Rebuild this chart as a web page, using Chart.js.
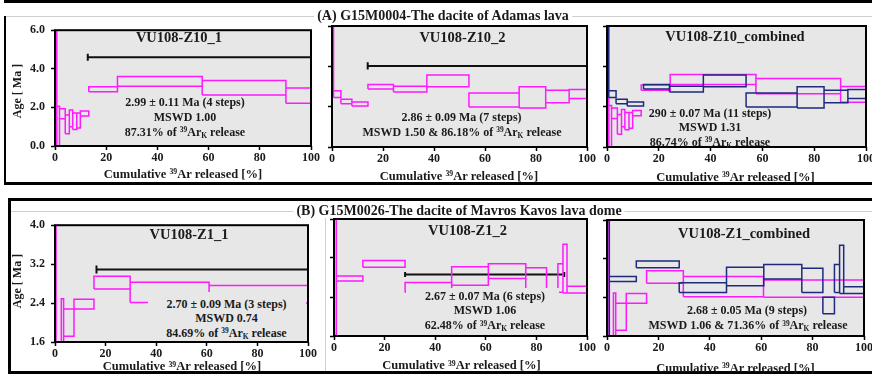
<!DOCTYPE html>
<html><head><meta charset="utf-8">
<script src="https://cdn.jsdelivr.net/npm/chart.js@4.4.0/dist/chart.umd.min.js"></script>
<style>
html,body{margin:0;padding:0;background:#fff;width:872px;height:379px;overflow:hidden;}
body{position:relative;font-family:"Liberation Serif","Times New Roman",serif;font-weight:bold;color:#1a1a1a;}
.ln{position:absolute;background:#000;}
.gl{position:absolute;background:#cfcfcf;}
canvas{position:absolute;}
.t{position:absolute;transform:translate(-50%,-50%);white-space:nowrap;line-height:1;}
.name{font-size:14.5px;}
.ann{font-size:12px;}
.xt{font-size:12.5px;}
.sec{font-size:14px;background:#fff;padding:0 3px;}
.yt{position:absolute;transform:translate(-50%,-50%) rotate(-90deg);white-space:nowrap;font-size:12px;line-height:1;}
.sup{font-size:0.62em;position:relative;top:-0.45em;}
.sub{font-size:0.62em;position:relative;top:0.3em;}
.box{position:absolute;background:#e7e7e7;}
</style>
</head><body>

<!-- section frames -->
<div class="ln" style="left:4px;top:0px;width:868px;height:3px"></div>
<div class="gl" style="left:4px;top:16px;width:868px;height:1px"></div>
<div class="ln" style="left:4px;top:16px;width:2px;height:168px"></div>
<div class="ln" style="left:4px;top:182px;width:868px;height:3px"></div>

<div class="ln" style="left:8px;top:198px;width:864px;height:3px"></div>
<div class="ln" style="left:8px;top:198px;width:3px;height:176px"></div>
<div class="ln" style="left:8px;top:371px;width:864px;height:3px"></div>
<div class="gl" style="left:11px;top:211px;width:861px;height:1px"></div>
<div class="gl" style="left:325px;top:212px;width:1px;height:159px"></div>

<canvas id="cA1" width="10" height="10"></canvas>
<canvas id="cA2" width="10" height="10"></canvas>
<canvas id="cA3" width="10" height="10"></canvas>
<canvas id="cB1" width="10" height="10"></canvas>
<canvas id="cB2" width="10" height="10"></canvas>
<canvas id="cB3" width="10" height="10"></canvas>

<div class="t sec" style="left:443px;top:15.5px">(A) G15M0004-The dacite of Adamas lava</div>
<div class="t sec" style="left:459px;top:210.5px">(B) G15M0026-The dacite of Mavros Kavos lava dome</div>

<div class="yt" style="left:17px;top:91px">Age [ Ma ]</div>
<div class="yt" style="left:17px;top:281px">Age [ Ma ]</div>

<div class="t name" style="left:179px;top:36.5px">VU108-Z10_1</div>
<div class="t name" style="left:462.5px;top:36.5px">VU108-Z10_2</div>
<div class="t name" style="left:735px;top:36px">VU108-Z10_combined</div>
<div class="t name" style="left:189px;top:234px">VU108-Z1_1</div>
<div class="t name" style="left:467.5px;top:229.5px">VU108-Z1_2</div>
<div class="t name" style="left:744px;top:232.5px">VU108-Z1_combined</div>

<div class="t ann" style="left:185px;top:102px">2.99 ± 0.11 Ma (4 steps)</div>
<div class="t ann" style="left:185px;top:116.5px">MSWD 1.00</div>
<div class="t ann" style="left:185px;top:131.5px">87.31% of <span class="sup">39</span>Ar<span class="sub">K</span> release</div>

<div class="t ann" style="left:461.5px;top:117px">2.86 ± 0.09 Ma (7 steps)</div>
<div class="t ann" style="left:462px;top:131.5px">MSWD 1.50 &amp; 86.18% of <span class="sup">39</span>Ar<span class="sub">K</span> release</div>

<div class="t ann" style="left:710px;top:112.5px">290 ± 0.07 Ma (11 steps)</div>
<div class="t ann" style="left:710px;top:126.5px">MSWD 1.31</div>
<div class="t ann" style="left:710px;top:141.5px">86.74% of <span class="sup">39</span>Ar<span class="sub">K</span> release</div>

<div class="box" style="left:148px;top:292px;width:158px;height:49px"></div>
<div class="t ann" style="left:226.5px;top:303.5px">2.70 ± 0.09 Ma (3 steps)</div>
<div class="t ann" style="left:226.5px;top:317.5px">MSWD 0.74</div>
<div class="t ann" style="left:226.5px;top:332.5px">84.69% of <span class="sup">39</span>Ar<span class="sub">K</span> release</div>

<div class="box" style="left:406px;top:288px;width:153px;height:46px"></div>
<div class="t ann" style="left:485px;top:296px">2.67 ± 0.07 Ma (6 steps)</div>
<div class="t ann" style="left:485px;top:309.5px">MSWD 1.06</div>
<div class="t ann" style="left:485px;top:325px">62.48% of <span class="sup">39</span>Ar<span class="sub">K</span> release</div>

<div class="t ann" style="left:747px;top:309.5px">2.68 ± 0.05 Ma (9 steps)</div>
<div class="t ann" style="left:748px;top:325px">MSWD 1.06 &amp; 71.36% of <span class="sup">39</span>Ar<span class="sub">K</span> release</div>

<div class="t xt" style="left:183px;top:173.5px">Cumulative <span class="sup">39</span>Ar released [%]</div>
<div class="t xt" style="left:459px;top:175.5px">Cumulative <span class="sup">39</span>Ar released [%]</div>
<div class="t xt" style="left:735.5px;top:176.5px">Cumulative <span class="sup">39</span>Ar released [%]</div>
<div class="t xt" style="left:182px;top:366px">Cumulative <span class="sup">39</span>Ar released [%]</div>
<div class="t xt" style="left:461.5px;top:365px">Cumulative <span class="sup">39</span>Ar released [%]</div>
<div class="t xt" style="left:735.5px;top:367.5px">Cumulative <span class="sup">39</span>Ar released [%]</div>

<script>
// ---- tick labels ----
const xTicks = [0, 20, 40, 60, 80, 100];
const yTicksA = [0, 2, 4, 6];
const yTicksB = [1.6, 2.4, 3.2, 4.0];

// ---- VU108-Z10_1 : cumulative 39Ar step boundaries [%], step age [Ma], 2s error [Ma] ----
const z10_1_steps = [0, 0.7, 1.75, 4.0, 5.6, 6.9, 8.5, 9.9, 13.2, 24.4, 57.5, 90.2, 100];
const z10_1_age   = [3.0, 0.53, 1.67, 1.12, 1.43, 1.28, 1.32, 1.68, 2.94, 3.35, 3.02, 2.61];
const z10_1_err   = [9.0, 1.53, 0.26, 0.49, 0.43, 0.43, 0.39, 0.13, 0.13, 0.25, 0.38, 0.39];
const z10_1_plateau = [12.8, 100, 4.6];   // from %, to %, bar level

// ---- VU108-Z10_2 ----
const z10_2_steps = [0, 0.6, 3.5, 7.8, 14.1, 24.1, 37.2, 53.7, 73.4, 83.8, 93.0, 100];
const z10_2_age   = [7.3, 2.62, 2.26, 2.13, 2.99, 2.87, 3.28, 2.33, 2.46, 2.51, 2.63];
const z10_2_err   = [4.7, 0.17, 0.11, 0.10, 0.11, 0.14, 0.29, 0.35, 0.53, 0.31, 0.22];
const z10_2_plateau = [14.0, 100, 4.02];

// ---- VU108-Z1_1 ----
const z1_1_steps = [0, 0.4, 2.5, 3.4, 7.5, 15.4, 29.7, 60.9, 100];
const z1_1_age   = [4.0, 1.2, 1.75, 2.0, 2.38, 2.82, 2.62, 2.58];
const z1_1_err   = [6.0, 0.2, 0.74, 0.28, 0.10, 0.13, 0.21, 0.18];
const z1_1_plateau = [16.4, 100, 3.09];

// ---- VU108-Z1_2 ----
const z1_2_steps = [0, 0.9, 11.4, 28.1, 46.5, 61.0, 75.8, 84.0, 88.5, 90.5, 92.1, 100];
const z1_2_age   = [4.0, 2.78, 3.08, 2.60, 2.83, 2.93, 2.75, 2.23, 2.79, 2.98, 2.55];
const z1_2_err   = [6.0, 0.05, 0.07, 0.10, 0.19, 0.15, 0.25, 0.17, 0.29, 0.50, 0.07];
const z1_2_plateau = [28.1, 91.0, 2.86];

const MAGENTA = '#ff19ff';
const NAVY = '#1e2a7e';
const FONT = {family: "'Liberation Serif','Times New Roman',serif", weight: 'bold', size: 12};

function boxes(steps, age, err) {
  const pts = [];
  for (let i = 0; i < age.length; i++) {
    const x0 = steps[i], x1 = steps[i + 1], lo = age[i] - err[i], hi = age[i] + err[i];
    pts.push({x: x0, y: lo}, {x: x0, y: hi}, {x: x1, y: hi}, {x: x1, y: lo}, {x: x0, y: lo}, {x: x1, y: null});
  }
  return pts;
}
function plateau(p, cap) {
  const [a, b, l] = p;
  return [{x: a, y: l - cap}, {x: a, y: l + cap}, {x: a, y: l}, {x: b, y: l}, {x: b, y: l + cap}, {x: b, y: l - cap}];
}
function spec(data, color) {
  return {data, showLine: true, borderColor: color, borderWidth: 1.5, pointRadius: 0, spanGaps: false, fill: false, tension: 0, borderJoinStyle: 'miter'};
}
function bar(data) {
  return {data, showLine: true, borderColor: '#111', borderWidth: 2, pointRadius: 0, spanGaps: false, fill: false, tension: 0};
}

const frame = {
  id: 'frame',
  beforeDraw(chart) {
    const a = chart.chartArea, c = chart.ctx;
    c.save(); c.fillStyle = '#e7e7e7'; c.fillRect(a.left, a.top, a.right - a.left, a.bottom - a.top); c.restore();
  },
  afterDatasetsDraw(chart) {
    const a = chart.chartArea, c = chart.ctx;
    c.save(); c.strokeStyle = '#000'; c.lineWidth = 2;
    c.strokeRect(a.left, a.top, a.right - a.left, a.bottom - a.top); c.restore();
  }
};

function panel(id, g, yTicks, showY, datasets) {
  const ly = showY ? 50 : 8, padTop = 8, padRight = 14, hx = 22;
  const cv = document.getElementById(id);
  cv.width = g.W + ly + padRight;
  cv.height = g.H + padTop + hx;
  cv.style.left = (g.L - ly) + 'px';
  cv.style.top = (g.T - padTop) + 'px';
  new Chart(cv, {
    type: 'scatter',
    data: {datasets},
    plugins: [frame],
    options: {
      responsive: false, animation: false, events: [],
      layout: {padding: {top: padTop, right: padRight, left: 0, bottom: 0}},
      plugins: {legend: {display: false}, tooltip: {enabled: false}, title: {display: false}},
      scales: {
        x: {
          type: 'linear', min: xTicks[0], max: xTicks[xTicks.length - 1],
          afterBuildTicks: s => { s.ticks = xTicks.map(v => ({value: v})); },
          afterFit: s => { s.height = hx; },
          grid: {display: true, drawOnChartArea: false, drawTicks: true, tickLength: 4, tickColor: '#000', tickWidth: 1.5},
          border: {display: false},
          ticks: {color: '#1a1a1a', font: FONT, padding: 1, maxRotation: 0, autoSkip: false, callback: v => String(v)}
        },
        y: {
          type: 'linear', min: yTicks[0], max: yTicks[yTicks.length - 1],
          afterBuildTicks: s => { s.ticks = yTicks.map(v => ({value: v})); },
          afterFit: s => { s.width = ly; },
          grid: {display: true, drawOnChartArea: false, drawTicks: true, tickLength: 4, tickColor: '#000', tickWidth: 1.5},
          border: {display: false},
          ticks: {display: showY, color: '#1a1a1a', font: FONT, padding: 6, autoSkip: false, callback: v => Number(v).toFixed(1)}
        }
      }
    }
  });
}

const capA = (yTicksA[yTicksA.length - 1] - yTicksA[0]) * 0.03;
const capB = (yTicksB[yTicksB.length - 1] - yTicksB[0]) * 0.035;

panel('cA1', {L: 55, T: 25, W: 256, H: 121}, yTicksA, true, [
  spec(boxes(z10_1_steps, z10_1_age, z10_1_err), MAGENTA),
  bar(plateau(z10_1_plateau, capA))
]);
panel('cA2', {L: 332, T: 26, W: 255, H: 121}, yTicksA, false, [
  spec(boxes(z10_2_steps, z10_2_age, z10_2_err), MAGENTA),
  bar(plateau(z10_2_plateau, capA))
]);
panel('cA3', {L: 607, T: 26, W: 259, H: 121}, yTicksA, false, [
  spec(boxes(z10_2_steps, z10_2_age, z10_2_err), NAVY),
  spec(boxes(z10_1_steps, z10_1_age, z10_1_err), MAGENTA)
]);
panel('cB1', {L: 55, T: 220, W: 253, H: 122}, yTicksB, true, [
  spec(boxes(z1_1_steps, z1_1_age, z1_1_err), MAGENTA),
  bar(plateau(z1_1_plateau, capB))
]);
panel('cB2', {L: 334, T: 219, W: 253, H: 117}, yTicksB, false, [
  spec(boxes(z1_2_steps, z1_2_age, z1_2_err), MAGENTA),
  bar(plateau(z1_2_plateau, capB * 0.6))
]);
panel('cB3', {L: 607, T: 220, W: 257, H: 116}, yTicksB, false, [
  spec(boxes(z1_2_steps, z1_2_age, z1_2_err), NAVY),
  spec(boxes(z1_1_steps, z1_1_age, z1_1_err), MAGENTA)
]);
</script>
</body></html>
